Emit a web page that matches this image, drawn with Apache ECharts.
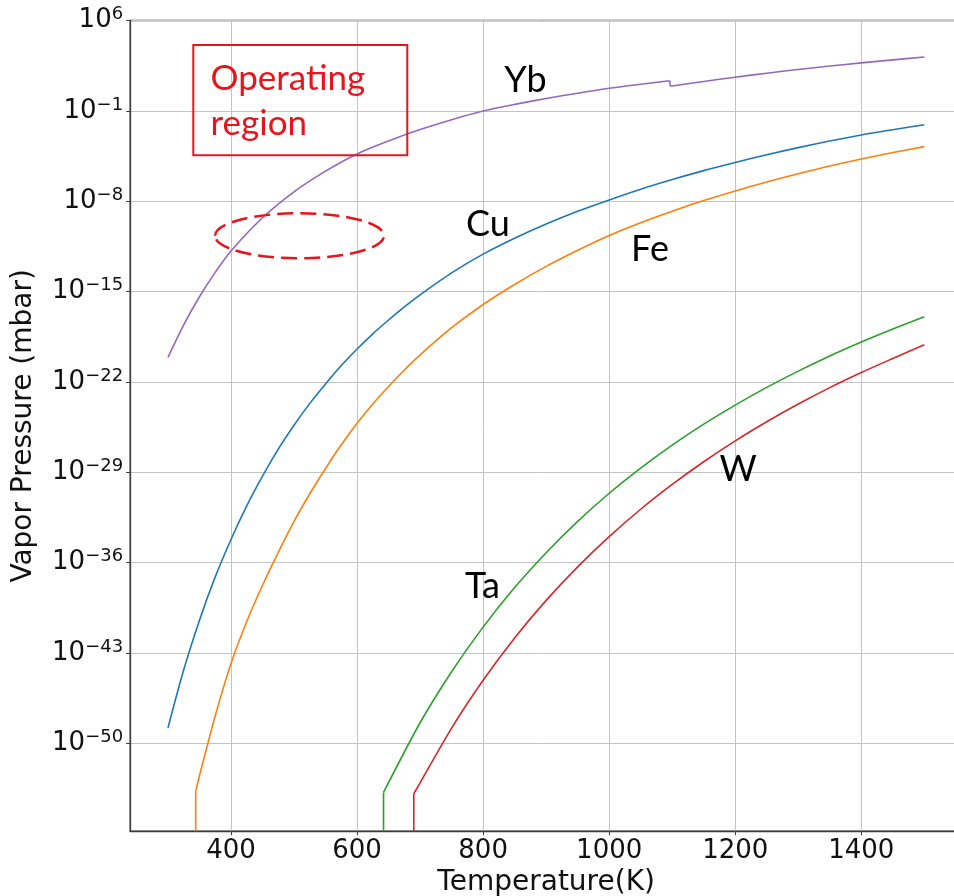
<!DOCTYPE html>
<html><head><meta charset="utf-8">
<script src="https://cdn.jsdelivr.net/npm/echarts@6/dist/echarts.min.js"></script>
<style>html,body{margin:0;padding:0;background:#fff}#c{width:954px;height:896px}</style>
</head><body><div id="c"></div>
<script>
// ---- data (temperature in K, vapor pressure as log10(mbar)) ----
const xTicks = [400, 600, 800, 1000, 1200, 1400];
const yTicks = [-50, -43, -36, -29, -22, -15, -8, -1, 6];

const cuT    = [300, 325, 350, 375, 400, 425, 450, 475, 500, 525, 550, 575, 600, 625, 650, 675, 700, 750, 800, 850, 900, 950, 1000, 1050, 1100, 1150, 1200, 1250, 1300, 1350, 1400, 1450, 1500];
const cuLogP = [-48.8, -44.3, -40.45, -37.1, -34.2, -31.6, -29.3, -27.2, -25.35, -23.66, -22.15, -20.73, -19.45, -18.27, -17.2, -16.18, -15.25, -13.55, -12.1, -10.87, -9.77, -8.78, -7.9, -7.07, -6.32, -5.63, -5.0, -4.4, -3.85, -3.34, -2.87, -2.46, -2.07];

const feT    = [344, 344, 350, 375, 400, 425, 450, 475, 500, 525, 550, 575, 600, 625, 650, 675, 700, 750, 800, 850, 900, 950, 1000, 1050, 1100, 1150, 1200, 1250, 1300, 1350, 1400, 1450, 1500];
const feLogP = [-56.8, -53.7, -52.5, -47.85, -43.8, -40.55, -37.75, -35.2, -32.8, -30.66, -28.7, -26.87, -25.2, -23.7, -22.35, -21.07, -19.9, -17.8, -16.0, -14.45, -13.05, -11.8, -10.65, -9.66, -8.77, -7.95, -7.2, -6.51, -5.87, -5.27, -4.73, -4.23, -3.77];

const taT    = [642, 642, 700, 750, 800, 850, 900, 950, 1000, 1050, 1100, 1150, 1200, 1250, 1300, 1350, 1400, 1450, 1500];
const taLogP = [-56.8, -53.8, -48.4, -44.45, -40.99, -37.93, -35.23, -32.8, -30.62, -28.67, -26.89, -25.27, -23.79, -22.42, -21.16, -19.99, -18.91, -17.9, -16.95];

const wT     = [690, 690, 700, 750, 800, 850, 900, 950, 1000, 1050, 1100, 1150, 1200, 1250, 1300, 1350, 1400, 1450, 1500];
const wLogP  = [-56.8, -53.9, -53.05, -48.81, -45.11, -41.83, -38.92, -36.32, -33.98, -31.86, -29.94, -28.18, -26.56, -25.08, -23.71, -22.44, -21.27, -20.18, -19.12];

const ybT    = [300, 325, 350, 375, 400, 450, 500, 550, 600, 650, 700, 750, 800, 850, 900, 950, 1000, 1050, 1096, 1097, 1150, 1200, 1250, 1300, 1350, 1400, 1450, 1500];
const ybLogP = [-20.1, -17.57, -15.4, -13.51, -11.85, -9.28, -7.27, -5.67, -4.34, -3.33, -2.45, -1.68, -1.01, -0.5, -0.04, 0.37, 0.75, 1.06, 1.33, 0.91, 1.28, 1.61, 1.92, 2.21, 2.47, 2.72, 2.95, 3.17];

// ---- chart ----
const chart = echarts.init(document.getElementById('c'), null, {renderer: 'canvas'});
const TICK_FONT = 'DejaVu Sans';

// split a curve into smooth runs and straight jump segments (vertical drops / discontinuity)
function curveSeries(name, t, v, color) {
  const parts = [];
  let cur = [[t[0], v[0]]];
  for (let i = 1; i < t.length; i++) {
    if (t[i] - t[i - 1] < 3) {
      if (cur.length > 1) parts.push({pts: cur, smooth: true});
      parts.push({pts: [[t[i - 1], v[i - 1]], [t[i], v[i]]], smooth: false});
      cur = [[t[i], v[i]]];
    } else {
      cur.push([t[i], v[i]]);
    }
  }
  if (cur.length > 1) parts.push({pts: cur, smooth: true});
  return parts.map(p => ({
    type: 'line', name, data: p.pts, showSymbol: false, symbol: 'none', clip: true,
    smooth: p.smooth ? 0.3 : false,
    lineStyle: {color, width: 1.6}, itemStyle: {color}, z: 3, silent: true
  }));
}
const series = [].concat(
  curveSeries('Cu', cuT, cuLogP, '#1f77b4'),
  curveSeries('Fe', feT, feLogP, '#ff7f0e'),
  curveSeries('Ta', taT, taLogP, '#2ca02c'),
  curveSeries('W',  wT,  wLogP,  '#d62728'),
  curveSeries('Yb', ybT, ybLogP, '#9467bd')
);

const supText = v => { const n = Math.round(v); return n < 0 ? '\u2212' + Math.abs(n) : String(n); };

chart.setOption({
  animation: false,
  backgroundColor: '#ffffff',
  grid: {left: 130.15, top: 20.5, width: 832, height: 810.7, show: true,
         outerBoundsMode: 'none', containLabel: false,
         borderColor: '#3c3c3c', borderWidth: 1.3, backgroundColor: 'transparent'},
  xAxis: {
    type: 'value', min: 240, max: 1560,
    name: 'Temperature(K)', nameLocation: 'middle', nameGap: 36,
    nameTextStyle: {fontFamily: TICK_FONT, fontSize: 28, color: '#111'},
    axisLine: {show: true, onZero: false, lineStyle: {color: '#3c3c3c', width: 1.3}},
    axisTick: {show: true, length: 4, customValues: xTicks, lineStyle: {color: '#3c3c3c'}},
    axisLabel: {customValues: xTicks, fontFamily: TICK_FONT, fontSize: 26, color: '#111', margin: 7,
                formatter: v => String(Math.round(v))},
    splitLine: {show: true, lineStyle: {color: '#c4c4c4', width: 1}}
  },
  yAxis: {
    type: 'value', min: -56.8, max: 6,
    name: 'Vapor Pressure (mbar)', nameLocation: 'middle', nameGap: 92,
    nameTextStyle: {fontFamily: TICK_FONT, fontSize: 28, color: '#111'},
    axisLine: {show: true, onZero: false, lineStyle: {color: '#3c3c3c', width: 1.3}},
    axisTick: {show: true, length: 4, customValues: yTicks, lineStyle: {color: '#3c3c3c'}},
    axisLabel: {
      customValues: yTicks, margin: 7,
      formatter: v => '{b|10}{s|' + supText(v) + '}',
      rich: {
        b: {fontFamily: TICK_FONT, fontSize: 26, color: '#111', lineHeight: 30},
        s: {fontFamily: TICK_FONT, fontSize: 18, color: '#111', lineHeight: 16, verticalAlign: 'top'}
      }
    },
    splitLine: {show: true, lineStyle: {color: '#c4c4c4', width: 1}}
  },
  series
});

// ---- annotations anchored in data coordinates ----
const P = (t, e) => chart.convertToPixel({gridIndex: 0}, [t, e]);
const RED = '#e8141c';
const ANN_FONT = 'Lato';
const boxA = P(340.2, 4.10), boxB = P(679.7, -4.44);
const ellA = P(374.6, -8.93), ellB = P(642.7, -12.42);
const textEl = (t, e, str, size, color, align) => {
  const p = P(t, e);
  return {type: 'text', x: p[0], y: p[1], z: 10, silent: true,
    style: {text: str, fill: color, font: size + 'px "' + ANN_FONT + '"',
            align: align, verticalAlign: 'middle', textAlign: align, textVerticalAlign: 'middle'}};
};
chart.setOption({
  graphic: [
    {type: 'rect', z: 10, silent: true,
     shape: {x: boxA[0], y: boxA[1], width: boxB[0] - boxA[0], height: boxB[1] - boxA[1]},
     style: {fill: 'none', stroke: RED, lineWidth: 2}},
    {type: 'ellipse', z: 10, silent: true,
     shape: {cx: (ellA[0] + ellB[0]) / 2, cy: (ellA[1] + ellB[1]) / 2,
             rx: (ellB[0] - ellA[0]) / 2, ry: (ellB[1] - ellA[1]) / 2},
     style: {fill: 'none', stroke: RED, lineWidth: 2.5, lineDash: [16, 7]}},
    textEl(367.6, 1.52, 'Operating', 35, RED, 'left'),
    textEl(367.6, -1.97, 'region', 35, RED, 'left'),
    textEl(867.2, 1.37, 'Yb', 36, '#000', 'center'),
    textEl(807.7, -9.78, 'Cu', 36, '#000', 'center'),
    textEl(1064.8, -11.72, 'Fe', 36, '#000', 'center'),
    textEl(799.0, -37.83, 'Ta', 36, '#000', 'center'),
    textEl(1204.4, -28.76, 'W', 36, '#000', 'center')
  ]
});
</script>
</body></html>
